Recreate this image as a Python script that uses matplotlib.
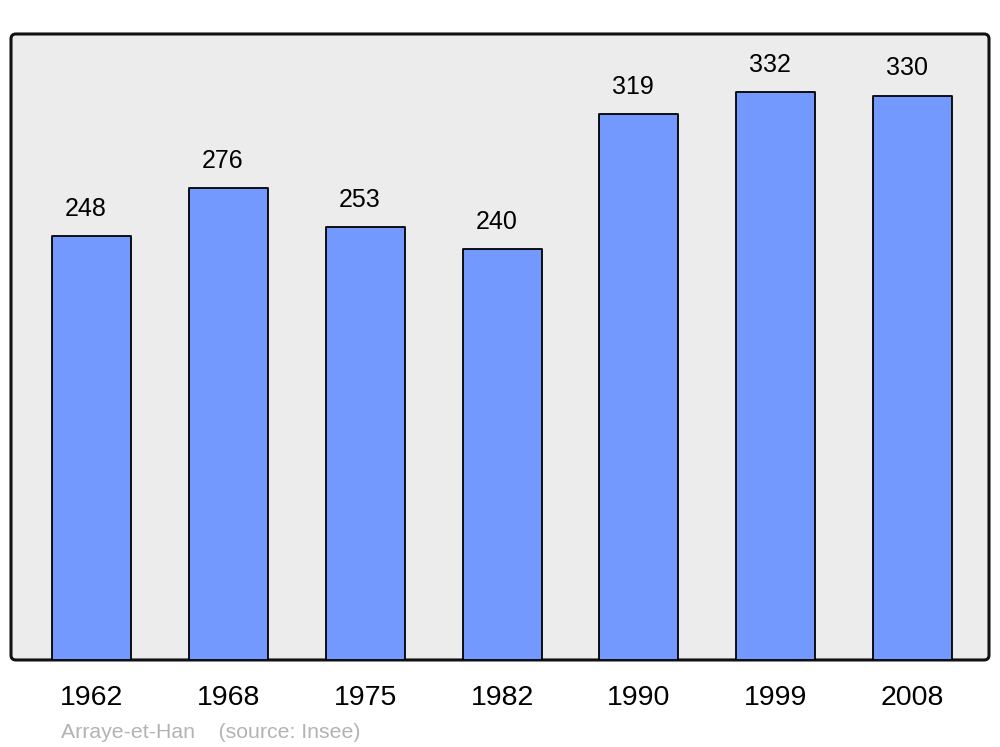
import matplotlib
matplotlib.use("Agg")
import matplotlib.pyplot as plt
from matplotlib.patches import FancyBboxPatch

plt.rcParams['font.family'] = ['Liberation Sans', 'DejaVu Sans']

years = ["1962", "1968", "1975", "1982", "1990", "1999", "2008"]
population = [248, 276, 253, 240, 319, 332, 330]
footer = "Arraye-et-Han    (source: Insee)"

fig = plt.figure(figsize=(10, 7.47), dpi=100)
ax = fig.add_axes([0.011, 0.1165, 0.978, 0.838])

# rounded grey frame behind the bars
frame = FancyBboxPatch((0, 0), 1, 1, boxstyle="round,pad=0,rounding_size=0.005",
                       mutation_aspect=978 / 626, transform=ax.transAxes,
                       facecolor="#ececec", edgecolor="#111111", linewidth=2.2,
                       clip_on=False, zorder=0)
ax.add_patch(frame)
ax.set_facecolor("none")
for s in ax.spines.values():
    s.set_visible(False)

x = list(range(len(years)))
bars = ax.bar(x, population, width=0.578, color="#7399ff", edgecolor="black",
              linewidth=1.3, zorder=2)
for b in bars:
    b.set_joinstyle("round")

for xi, v in zip(x, population):
    ax.annotate(str(v), (xi, v), xytext=(-4, 19.5), textcoords="offset points",
                ha="center", va="center", fontsize=18)

ax.set_xlim(-0.59, 6.56)
ax.set_ylim(0, 366)
ax.set_yticks([])
ax.set_xticks(x)
ax.set_xticklabels(years, fontsize=20.5)
ax.tick_params(axis="x", length=0, pad=18)
for lbl in ax.get_xticklabels():
    lbl.set_x(lbl.get_position()[0])

fig.text(0.061, 0.020, footer, fontsize=15.3, color="#b3b3b3", va="center", ha="left")

fig.savefig("out.png", dpi=100)
